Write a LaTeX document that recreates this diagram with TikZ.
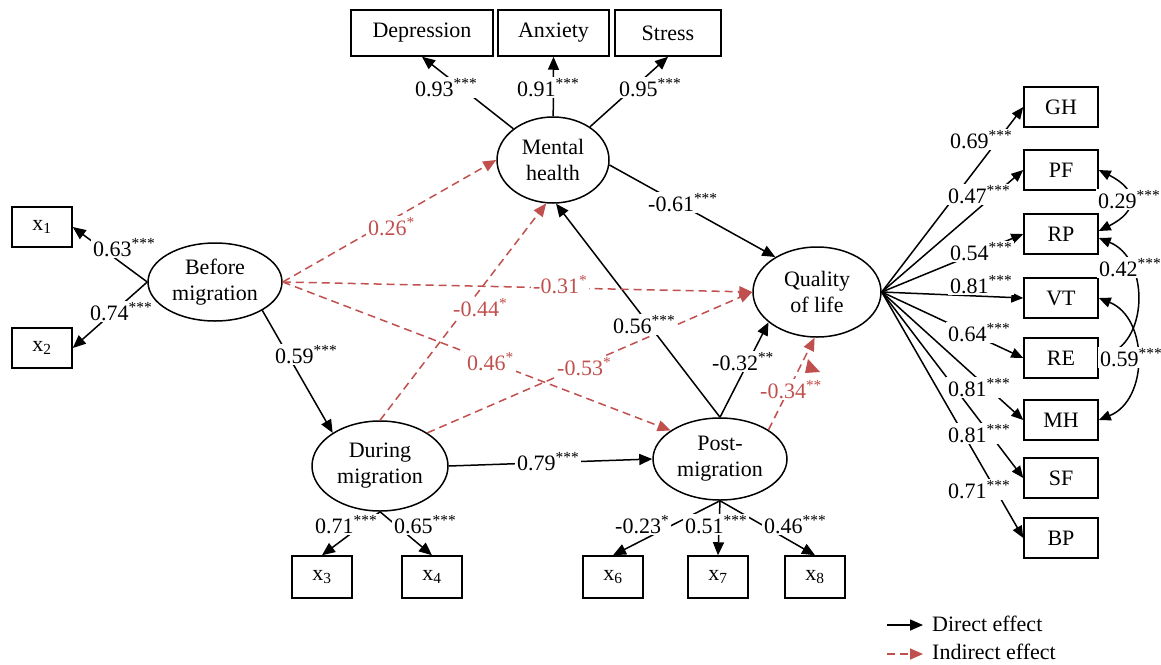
\documentclass[tikz,border=0pt]{standalone}
\usepackage{fontspec}
\setmainfont{Liberation Serif}
\usetikzlibrary{arrows.meta,shapes.geometric}
\definecolor{ired}{HTML}{C0504D}
\newcommand{\sg}[1]{\textsuperscript{#1}}
\begin{document}
\begin{tikzpicture}[x=1pt,y=-1pt,font=\fontsize{22}{26}\selectfont,
  lat/.style={ellipse,draw,line width=1.5pt,inner sep=0pt,align=center},
  obs/.style={rectangle,draw,line width=1.5pt,inner sep=0pt},
  bobs/.style={obs,minimum width=60pt,minimum height=42pt},
  robs/.style={obs,minimum width=74pt,minimum height=40pt},
  tobs/.style={obs,minimum height=46pt},
  dir/.style={line width=1.5pt,-{Triangle[length=13pt,width=11pt]}},
  ind/.style={ired,line width=1.5pt,dash pattern=on 8pt off 5pt,-{Triangle[length=13pt,width=11pt]}},
  lab/.style={fill=white,inner xsep=2pt,inner ysep=1.5pt,anchor=base west},
  rlab/.style={lab,text=ired},
  cov/.style={line width=1.5pt,{Triangle[length=12pt,width=10pt]}-{Triangle[length=12pt,width=10pt]}}
]
\useasboundingbox (0,0) rectangle (1161,664);

% latent variables
\node[lat,minimum width=112pt,minimum height=86pt] (MH) at (553,160) {Mental\\health};
\node[lat,minimum width=134pt,minimum height=78pt] (BM) at (215,282) {Before\\migration};
\node[lat,minimum width=136pt,minimum height=90pt] (DM) at (380,466) {During\\migration};
\node[lat,minimum width=134pt,minimum height=82pt] (PM) at (720,459) {Post-\\migration};
\node[lat,minimum width=128pt,minimum height=90pt] (QL) at (817,292) {Quality\\of life};

% indicators
\node[tobs,minimum width=142pt] (Dep) at (422,33) {Depression};
\node[tobs,minimum width=111pt] (Anx) at (553.5,33) {Anxiety};
\node[tobs,minimum width=106pt] (Str) at (668,33) {Stress};
\node[obs,minimum width=60pt,minimum height=40pt] (x1) at (42,227) {x\textsubscript{1}};
\node[obs,minimum width=60pt,minimum height=40pt] (x2) at (42,348) {x\textsubscript{2}};
\node[bobs] (x3) at (322,577) {x\textsubscript{3}};
\node[bobs] (x4) at (432,577) {x\textsubscript{4}};
\node[bobs] (x6) at (613,577) {x\textsubscript{6}};
\node[bobs] (x7) at (718,577) {x\textsubscript{7}};
\node[bobs] (x8) at (815,577) {x\textsubscript{8}};
\node[robs] (qGH) at (1061,107) {GH};
\node[robs] (qPF) at (1061,170) {PF};
\node[robs] (qRP) at (1061,234) {RP};
\node[robs] (qVT) at (1061,298) {VT};
\node[robs] (qRE) at (1061,358) {RE};
\node[robs] (qMH) at (1061,420) {MH};
\node[robs] (qSF) at (1061,478) {SF};
\node[robs] (qBP) at (1061,538) {BP};

% measurement paths
\draw[dir] (MH) -- (Dep.south);
\draw[dir] (MH) -- (Anx.south);
\draw[dir] (MH) -- (Str.south);
\draw[dir] (BM.west) -- (x1.east);
\draw[dir] (BM.west) -- (x2.east);
\draw[dir] (DM.south) -- (x3.north);
\draw[dir] (DM.south) -- (x4.north);
\draw[dir] (PM.south) -- (x6.north);
\draw[dir] (PM.south) -- (x7.north);
\draw[dir] (PM.south) -- (x8.north);
\foreach \b in {qGH,qPF,qRP,qVT,qRE,qMH,qSF,qBP}
  \draw[line width=1.5pt,-{Triangle[length=12pt,width=10pt]}] (QL.east) -- (\b.west);

% covariances
\draw[cov] (qPF.east) .. controls +(40,20) and +(40,-20) .. ([yshift=3pt]qRP.east);
\draw[cov] ([yshift=-4pt]qRP.east) .. controls +(50,20) and +(50,-20) .. (qRE.east);
\draw[cov] (qVT.east) .. controls +(50,20) and +(50,-20) .. (qMH.east);

% structural paths (direct)
\draw[dir] (BM.-31) -- (DM.145);
\draw[dir] (DM.east) -- (PM.west);
\draw[dir] (PM.north) -- (MH.-86);
\draw[dir] (PM.north) -- (QL.-148);
\draw[dir] (MH.-5) -- (QL.140);

% indirect
\draw[ind] (BM.east) -- (MH.west);
\draw[ind] (BM.east) -- (QL.west);
\draw[ind] (BM.east) -- (PM.150);
\draw[ind] (DM.north) -- (MH.-99);
\draw[ind] (DM.35) -- (QL.west);
\draw[ind] (PM.31) -- (QL.-93);
\fill[ired] (808,359) -- (820,372) -- (805,373) -- cycle;

% labels (black)
\node[lab] (l063) at (91,256) {0.63\sg{***}};
\node[lab] (l074) at (88,320) {0.74\sg{***}};
\node[lab] (l059) at (273,363) {0.59\sg{***}};
\node[lab] (l079) at (515,470) {0.79\sg{***}};
\node[lab] (l071) at (313,533) {0.71\sg{***}};
\node[lab] (l065) at (392,533) {0.65\sg{***}};
\node[lab] (l023) at (613,533) {-0.23\sg{*}};
\node[lab] (l051) at (683,533) {0.51\sg{***}};
\node[lab] (l046b) at (762,533) {0.46\sg{***}};
\node[lab] (l093) at (413,96) {0.93\sg{***}};
\node[lab] (l091) at (515,96) {0.91\sg{***}};
\node[lab] (l095) at (617,96) {0.95\sg{***}};
\node[lab] (l061) at (646,211) {-0.61\sg{***}};
\node[lab] (l056) at (611,333) {0.56\sg{***}};
\node[lab] (l032) at (710,370) {-0.32\sg{**}};
% labels (red)
\node[rlab] (l026) at (366,235) {0.26\sg{*}};
\node[rlab] (l031) at (531,293) {-0.31\sg{*}};
\node[rlab] (l044) at (451,316) {-0.44\sg{*}};
\node[rlab] (l046) at (465,370) {0.46\sg{*}};
\node[rlab] (l053) at (555,375) {-0.53\sg{*}};
\node[rlab] (l034) at (758,398) {-0.34\sg{**}};
% fan labels
\node[lab] (f1) at (948,148) {0.69\sg{***}};
\node[lab] (f2) at (946,203) {0.47\sg{***}};
\node[lab] (f3) at (948,260) {0.54\sg{***}};
\node[lab] (f4) at (948,293) {0.81\sg{***}};
\node[lab] (f5) at (946,341) {0.64\sg{***}};
\node[lab] (f6) at (946,396) {0.81\sg{***}};
\node[lab] (f7) at (946,442) {0.81\sg{***}};
\node[lab] (f8) at (946,498) {0.71\sg{***}};
% covariance labels
\node[lab] (c1) at (1096,208) {0.29\sg{***}};
\node[lab] (c2) at (1097,276) {0.42\sg{***}};
\node[lab] (c3) at (1098,366) {0.59\sg{***}};

% legend
\coordinate (la) at (887,625);
\coordinate (lb) at (887,654);
\node[anchor=west,inner sep=0pt] (lt1) at (932,624) {Direct effect};
\node[anchor=west,inner sep=0pt] (lt2) at (932,652) {Indirect effect};
\draw[dir] (la) -- ([xshift=-9pt,yshift=-1pt]lt1.west);
\draw[ind] (lb) -- ([xshift=-9pt,yshift=-2pt]lt2.west);
\end{tikzpicture}
\end{document}
